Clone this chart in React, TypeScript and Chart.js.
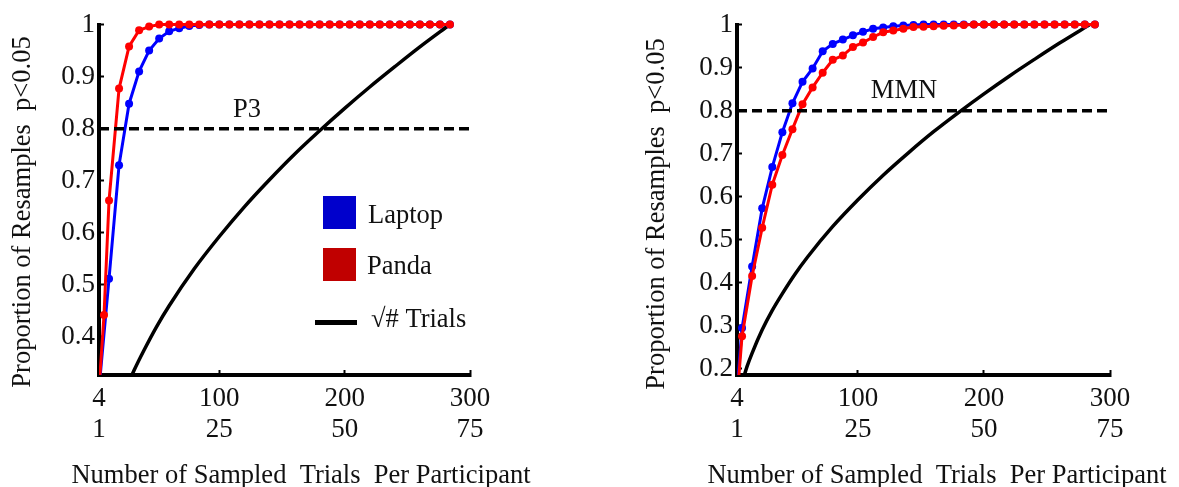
import React, { useEffect, useRef } from "react";
import { Chart, registerables } from "chart.js";

Chart.register(...registerables);

const FONT = "'Liberation Serif', 'Times New Roman', Times, serif";

// ---------- axis ticks ----------
const xTickValues = [4, 100, 200, 300];
const xTickTop = ["4", "100", "200", "300"];
const xTickBottom = ["1", "25", "50", "75"];
const yTicksP3 = [0.4, 0.5, 0.6, 0.7, 0.8, 0.9, 1];
const yTicksMMN = [0.2, 0.3, 0.4, 0.5, 0.6, 0.7, 0.8, 0.9, 1];

const X_TITLE = "Number of Sampled  Trials  Per Participant";
const Y_TITLE = "Proportion of Resamples  p<0.05";

// ---------- P3 panel ----------
const p3LaptopX = [4, 12, 20, 28, 36, 44, 52, 60, 68, 76, 84, 92, 100, 108, 116, 124, 132, 140, 148, 156, 164, 172, 180, 188, 196, 204, 212, 220, 228, 236, 244, 252, 260, 268, 276, 284];
const p3LaptopY = [0.30, 0.512, 0.73, 0.848, 0.91, 0.95, 0.973, 0.987, 0.993, 0.997, 0.999, 1, 1, 1, 1, 1, 1, 1, 1, 1, 1, 1, 1, 1, 1, 1, 1, 1, 1, 1, 1, 1, 1, 1, 1, 1];
const p3PandaX = [4, 8, 12, 20, 28, 36, 44, 52, 60, 68, 76, 84, 92, 100, 108, 116, 124, 132, 140, 148, 156, 164, 172, 180, 188, 196, 204, 212, 220, 228, 236, 244, 252, 260, 268, 276, 284];
const p3PandaY = [0.30, 0.442, 0.662, 0.877, 0.958, 0.989, 0.996, 1, 1, 1, 1, 1, 1, 1, 1, 1, 1, 1, 1, 1, 1, 1, 1, 1, 1, 1, 1, 1, 1, 1, 1, 1, 1, 1, 1, 1, 1];

// ---------- MMN panel ----------
const mmnX = [4, 8, 16, 24, 32, 40, 48, 56, 64, 72, 80, 88, 96, 104, 112, 120, 128, 136, 144, 152, 160, 168, 176, 184, 192, 200, 208, 216, 224, 232, 240, 248, 256, 264, 272, 280, 288];
const mmnLaptopY = [0.15, 0.295, 0.438, 0.573, 0.669, 0.75, 0.817, 0.867, 0.898, 0.938, 0.955, 0.965, 0.975, 0.983, 0.99, 0.993, 0.996, 0.998, 0.999, 1, 1, 1, 1, 1, 1, 1, 1, 1, 1, 1, 1, 1, 1, 1, 1, 1, 1];
const mmnPandaY = [0.13, 0.276, 0.416, 0.528, 0.628, 0.697, 0.757, 0.815, 0.854, 0.888, 0.918, 0.928, 0.948, 0.958, 0.971, 0.982, 0.986, 0.99, 0.994, 0.995, 0.996, 0.997, 0.998, 0.999, 1, 1, 1, 1, 1, 1, 1, 1, 1, 1, 1, 1, 1];

// ---------- sqrt(# trials) reference curve ----------
const sqrtX = [8, 12, 16, 24, 32, 40, 50, 60, 80, 100, 120, 140, 160, 180, 200, 220, 240, 260, 284];
const sqrtY = [0.168, 0.206, 0.237, 0.291, 0.336, 0.375, 0.42, 0.46, 0.531, 0.593, 0.65, 0.702, 0.751, 0.796, 0.839, 0.88, 0.919, 0.957, 1.0];

// ---------- criterion line ----------
const critX = [4, 300];
const critY = [0.8, 0.8];

const zip = (xs: number[], ys: number[]) => xs.map((x, i) => ({ x, y: ys[i] }));

type Panel = {
  laptopX: number[];
  laptopY: number[];
  pandaX: number[];
  pandaY: number[];
  yMin: number;
  yTicks: number[];
  yAxisWidth: number;
  padRight: number;
  label: string;
  labelX: number;
  labelBase: number;
  yTitleX: number;
  yTitleY: number;
  xTitleX: number;
  xTitleBase: number;
  legend: boolean;
};

const P3: Panel = {
  laptopX: p3LaptopX,
  laptopY: p3LaptopY,
  pandaX: p3PandaX,
  pandaY: p3PandaY,
  yMin: 0.327,
  yTicks: yTicksP3,
  yAxisWidth: 99,
  padRight: 120,
  label: "P3",
  labelX: 247,
  labelBase: 117,
  yTitleX: 30,
  yTitleY: 212,
  xTitleX: 301,
  xTitleBase: 483,
  legend: true,
};

const MMN: Panel = {
  laptopX: mmnX,
  laptopY: mmnLaptopY,
  pandaX: mmnX,
  pandaY: mmnPandaY,
  yMin: 0.186,
  yTicks: yTicksMMN,
  yAxisWidth: 147,
  padRight: 69,
  label: "MMN",
  labelX: 314,
  labelBase: 98,
  yTitleX: 74,
  yTitleY: 214,
  xTitleX: 347,
  xTitleBase: 483,
  legend: false,
};

function textPlugin(p: Panel) {
  return {
    id: "panelText",
    afterDraw(chart: any) {
      const ctx: CanvasRenderingContext2D = chart.ctx;
      ctx.save();
      ctx.fillStyle = "#111";
      ctx.font = `26.5px ${FONT}`;
      ctx.textBaseline = "alphabetic";
      ctx.save();
      ctx.translate(p.yTitleX, p.yTitleY);
      ctx.rotate(-Math.PI / 2);
      ctx.textAlign = "center";
      ctx.fillText(Y_TITLE, 0, 0);
      ctx.restore();
      ctx.textAlign = "center";
      ctx.fillText(X_TITLE, p.xTitleX, p.xTitleBase);
      ctx.fillText(p.label, p.labelX, p.labelBase);
      if (p.legend) {
        ctx.textAlign = "left";
        ctx.fillStyle = "#0000cc";
        ctx.fillRect(323, 196, 33, 33);
        ctx.fillStyle = "#c00000";
        ctx.fillRect(323, 248, 33, 33);
        ctx.fillStyle = "#000";
        ctx.fillRect(315, 320, 42, 5);
        ctx.fillStyle = "#111";
        ctx.fillText("Laptop", 368, 223);
        ctx.fillText("Panda", 367, 274);
        ctx.fillText("\u221A# Trials", 371, 327);
      }
      ctx.restore();
    },
  };
}

function buildConfig(p: Panel): any {
  const tickFont = { family: FONT, size: 27, lineHeight: 1.15 };
  return {
    type: "line",
    data: {
      datasets: [
        {
          label: "criterion",
          data: zip(critX, critY),
          borderColor: "#000",
          borderWidth: 3.5,
          borderDash: [10, 5],
          pointRadius: 0,
          order: 0,
        },
        {
          label: "Panda",
          data: zip(p.pandaX, p.pandaY),
          borderColor: "#ff0000",
          backgroundColor: "#ff0000",
          borderWidth: 3,
          pointRadius: 4,
          pointBorderWidth: 0,
          pointBackgroundColor: "#ff0000",
          order: 1,
        },
        {
          label: "Laptop",
          data: zip(p.laptopX, p.laptopY),
          borderColor: "#0000ff",
          backgroundColor: "#0000ff",
          borderWidth: 3,
          pointRadius: 4,
          pointBorderWidth: 0,
          pointBackgroundColor: "#0000ff",
          order: 2,
        },
        {
          label: "\u221A# Trials",
          data: zip(sqrtX, sqrtY),
          borderColor: "#000",
          borderWidth: 3.5,
          pointRadius: 0,
          cubicInterpolationMode: "monotone",
          order: 3,
        },
      ],
    },
    options: {
      responsive: false,
      animation: false,
      devicePixelRatio: 1,
      clip: { left: 0, top: 8, right: 8, bottom: 0 },
      layout: { padding: { left: 0, top: 24, right: p.padRight, bottom: 0 } },
      plugins: { legend: { display: false }, tooltip: { enabled: false } },
      elements: { line: { tension: 0 } },
      scales: {
        x: {
          type: "linear",
          min: 4,
          max: 300,
          afterBuildTicks: (s: any) => {
            s.ticks = xTickValues.map((v) => ({ value: v }));
          },
          afterFit: (s: any) => {
            s.height = 112;
          },
          ticks: {
            autoSkip: false,
            maxRotation: 0,
            padding: 13,
            color: "#111",
            font: tickFont,
            callback: (v: number) => {
              const i = xTickValues.indexOf(v);
              return i >= 0 ? [xTickTop[i], xTickBottom[i]] : "";
            },
          },
          grid: { drawOnChartArea: false, drawTicks: true, tickLength: -5, tickWidth: 2, tickColor: "#000" },
          border: { display: true, width: 4, color: "#000" },
        },
        y: {
          type: "linear",
          min: p.yMin,
          max: 1,
          afterBuildTicks: (s: any) => {
            s.ticks = p.yTicks.map((v) => ({ value: v }));
          },
          afterFit: (s: any) => {
            s.width = p.yAxisWidth;
          },
          ticks: {
            autoSkip: false,
            padding: 9,
            color: "#111",
            font: tickFont,
            callback: (v: number) => String(v),
          },
          grid: { drawOnChartArea: false, drawTicks: true, tickLength: -5, tickWidth: 2, tickColor: "#000" },
          border: { display: true, width: 4, color: "#000" },
        },
      },
    },
    plugins: [textPlugin(p)],
  };
}

export default function App() {
  const leftRef = useRef<HTMLCanvasElement | null>(null);
  const rightRef = useRef<HTMLCanvasElement | null>(null);

  useEffect(() => {
    const charts: Chart[] = [];
    if (leftRef.current) charts.push(new Chart(leftRef.current, buildConfig(P3)));
    if (rightRef.current) charts.push(new Chart(rightRef.current, buildConfig(MMN)));
    return () => charts.forEach((c) => c.destroy());
  }, []);

  return (
    <div style={{ position: "absolute", left: 0, top: 0, width: 1179, height: 487, background: "#fff" }}>
      <canvas ref={leftRef} width={590} height={487} style={{ position: "absolute", left: 0, top: 0, width: 590, height: 487 }} />
      <canvas ref={rightRef} width={589} height={487} style={{ position: "absolute", left: 590, top: 0, width: 589, height: 487 }} />
    </div>
  );
}
